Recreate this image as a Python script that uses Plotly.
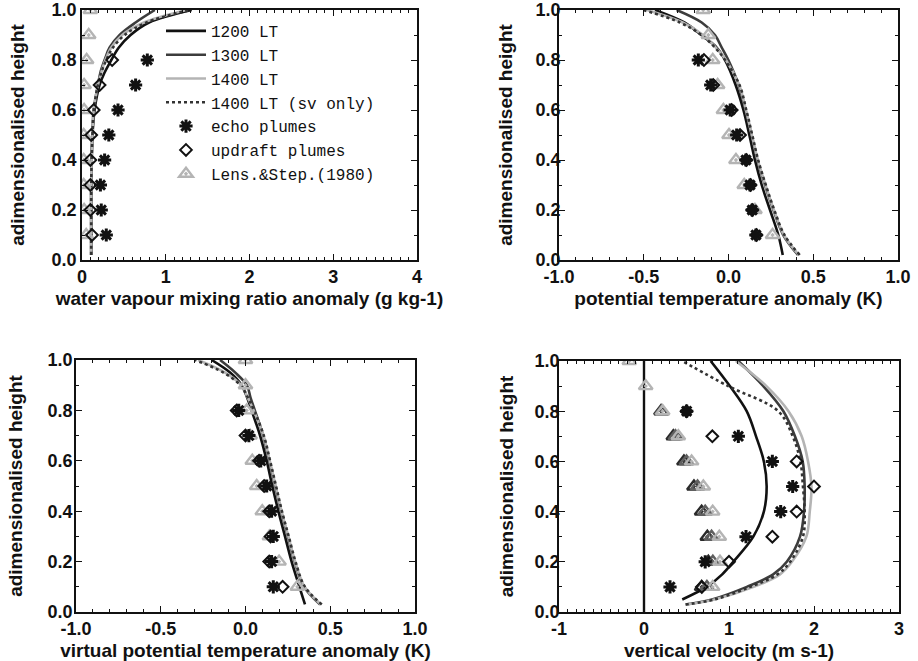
import plotly.graph_objects as go

# ---------------- data ----------------
h_pts8 = [0.1, 0.2, 0.3, 0.4, 0.5, 0.6, 0.7, 0.8]
h_pts10 = [0.1, 0.2, 0.3, 0.4, 0.5, 0.6, 0.7, 0.8, 0.9, 1.0]

# Panel 1: water vapour mixing ratio anomaly (g kg-1)
h_q = [0.02, 0.1, 0.2, 0.3, 0.4, 0.5, 0.6, 0.7, 0.75, 0.8, 0.85, 0.9, 0.95, 1.0]
q_1200 = [0.11, 0.11, 0.11, 0.11, 0.115, 0.125, 0.15, 0.21, 0.27, 0.35, 0.44, 0.58, 0.80, 1.31]
q_1300 = [0.11, 0.11, 0.11, 0.11, 0.115, 0.125, 0.14, 0.19, 0.22, 0.27, 0.33, 0.45, 0.64, 0.87]
q_1400 = [0.11, 0.11, 0.11, 0.11, 0.115, 0.125, 0.14, 0.19, 0.23, 0.28, 0.35, 0.48, 0.74, 1.25]
q_sv = [0.11, 0.11, 0.11, 0.11, 0.115, 0.125, 0.14, 0.19, 0.23, 0.29, 0.37, 0.51, 0.77, 1.29]
echo_q = [0.29, 0.23, 0.22, 0.27, 0.32, 0.43, 0.64, 0.78]
upd_q = [0.12, 0.10, 0.10, 0.10, 0.11, 0.14, 0.21, 0.36]
ls_q = [0.05, 0.025, 0.02, 0.02, 0.02, 0.025, 0.025, 0.055, 0.08, 0.10]

# Panel 2: potential temperature anomaly (K)
h_th = [0.02, 0.1, 0.2, 0.3, 0.4, 0.5, 0.6, 0.7, 0.8, 0.85, 0.9, 0.95, 1.0]
th_1200 = [0.32, 0.294, 0.245, 0.196, 0.156, 0.123, 0.088, 0.042, -0.021, -0.07, -0.16, -0.26, -0.434]
th_1300 = [0.41, 0.323, 0.265, 0.215, 0.17, 0.136, 0.10, 0.06, -0.001, -0.04, -0.08, -0.158, -0.306]
th_1400 = [0.415, 0.327, 0.268, 0.218, 0.173, 0.138, 0.103, 0.063, -0.015, -0.075, -0.15, -0.27, -0.48]
th_sv = [0.42, 0.33, 0.27, 0.22, 0.175, 0.14, 0.105, 0.065, -0.02, -0.08, -0.16, -0.286, -0.503]
echo_th = [0.162, 0.14, 0.127, 0.103, 0.048, 0.01, -0.105, -0.178]
upd_th = [0.165, 0.14, 0.13, 0.105, 0.068, 0.019, -0.09, -0.145]
ls_th = [0.26, 0.156, 0.093, 0.044, 0.003, -0.03, -0.064, -0.093, -0.119, -0.149]

# Panel 3: virtual potential temperature anomaly (K)
h_tv = [0.03, 0.1, 0.2, 0.3, 0.4, 0.5, 0.6, 0.7, 0.8, 0.85, 0.9, 0.95, 1.0]
tv_1200 = [0.351, 0.318, 0.272, 0.233, 0.194, 0.158, 0.125, 0.086, 0.036, 0.01, -0.023, -0.091, -0.2]
tv_1300 = [0.44, 0.345, 0.29, 0.25, 0.21, 0.175, 0.14, 0.104, 0.055, 0.03, 0.008, -0.06, -0.15]
tv_1400 = [0.445, 0.348, 0.293, 0.253, 0.213, 0.178, 0.143, 0.106, 0.048, 0.013, -0.025, -0.12, -0.28]
tv_sv = [0.45, 0.35, 0.295, 0.255, 0.215, 0.18, 0.145, 0.108, 0.05, 0.015, -0.03, -0.13, -0.298]
echo_tv = [0.164, 0.154, 0.164, 0.154, 0.125, 0.09, 0.02, -0.04]
upd_tv = [0.219, 0.14, 0.148, 0.14, 0.11, 0.08, 0.0, -0.052]
ls_tv = [0.306, 0.198, 0.141, 0.099, 0.066, 0.04, 0.027, 0.007, 0.0, 0.0]

# Panel 4: vertical velocity (m s-1)
h_w1200 = [0.05, 0.1, 0.15, 0.2, 0.3, 0.4, 0.5, 0.6, 0.7, 0.8, 0.9, 1.0]
w_1200 = [0.45, 0.737, 0.92, 1.05, 1.286, 1.41, 1.443, 1.41, 1.318, 1.208, 1.01, 0.784]
h_w = [0.03, 0.05, 0.1, 0.15, 0.2, 0.3, 0.4, 0.5, 0.6, 0.7, 0.8, 0.9, 1.0]
w_1300 = [0.49, 0.80, 1.21, 1.52, 1.68, 1.835, 1.882, 1.89, 1.867, 1.776, 1.64, 1.404, 1.11]
w_1400 = [0.50, 0.83, 1.29, 1.60, 1.74, 1.91, 1.95, 1.97, 1.93, 1.855, 1.70, 1.44, 1.08]
w_sv = [0.49, 0.83, 1.25, 1.57, 1.72, 1.87, 1.89, 1.87, 1.84, 1.75, 1.58, 0.99, 0.45]
zero_w = [0.0, 0.0]
zero_h = [0.0, 1.0]
echo_w = [0.306, 0.72, 1.2, 1.608, 1.749, 1.51, 1.11, 0.502]
upd_w = [0.68, 1.0, 1.51, 1.796, 2.0, 1.796, 0.804, 0.5]
ls_w_dark = [0.678, 0.757, 0.745, 0.678, 0.588, 0.47, 0.345, 0.20]
ls_w_mid = [0.74, 0.81, 0.795, 0.72, 0.63, 0.50, 0.37, 0.21]
ls_w = [0.808, 0.894, 0.886, 0.808, 0.698, 0.56, 0.404, 0.22, 0.02, -0.173]

legend_names = ["1200 LT", "1300 LT", "1400 LT", "1400 LT (sv only)",
                "echo plumes", "updraft plumes", "Lens.&Step.(1980)"]

# tick labels
y_tickvals = [0.0, 0.2, 0.4, 0.6, 0.8, 1.0]
y_ticktext = ["0.0", "0.2", "0.4", "0.6", "0.8", "1.0"]
x_tickvals = [[0, 1, 2, 3, 4], [-1.0, -0.5, 0.0, 0.5, 1.0], [-1.0, -0.5, 0.0, 0.5, 1.0], [-1, 0, 1, 2, 3]]
x_ticktext = [["0", "1", "2", "3", "4"], ["-1.0", "-0.5", "0.0", "0.5", "1.0"],
              ["-1.0", "-0.5", "0.0", "0.5", "1.0"], ["-1", "0", "1", "2", "3"]]
x_titles = ["water vapour mixing ratio anomaly (g kg-1)", "potential temperature anomaly (K)",
            "virtual potential temperature anomaly (K)", "vertical velocity (m s-1)"]
y_title = "adimensionalised height"
x_ranges = [[0, 4], [-1, 1], [-1, 1], [-1, 3]]

# ---------------- styles ----------------
C1200, C1300, C1400, CSV = "#111111", "#3c3c3c", "#b4b4b4", "#333333"
LW = 2.6
line_styles = [
    dict(color=C1200, width=LW),
    dict(color=C1300, width=LW),
    dict(color=C1400, width=LW),
    dict(color=CSV, width=LW, dash="dot"),
]
echo_marker = dict(symbol="asterisk-open", size=11, color="#111111",
                   line=dict(color="#111111", width=3))
upd_marker = dict(symbol="diamond-open", size=9, color="#111111",
                  line=dict(color="#111111", width=2))


def tri_marker(col):
    return dict(symbol="triangle-up-open-dot", size=12, color=col,
                line=dict(color=col, width=2.4))


fig = go.Figure()

panels = [
    ("x", "y", h_q, [q_1200, q_1300, q_1400, q_sv], echo_q, upd_q, ls_q),
    ("x2", "y2", h_th, [th_1200, th_1300, th_1400, th_sv], echo_th, upd_th, ls_th),
    ("x3", "y3", h_tv, [tv_1200, tv_1300, tv_1400, tv_sv], echo_tv, upd_tv, ls_tv),
]

for pi, (xa, ya, hh, lines, ec, up, ls) in enumerate(panels):
    first = pi == 0
    for k, xs in enumerate(lines):
        fig.add_trace(go.Scatter(x=xs, y=hh, mode="lines", line=dict(line_styles[k], shape="spline"),
                                 name=legend_names[k], showlegend=first, legendrank=k + 1,
                                 xaxis=xa, yaxis=ya))
    fig.add_trace(go.Scatter(x=ls, y=h_pts10, mode="markers", marker=tri_marker(C1400),
                             name=legend_names[6], showlegend=first, legendrank=7,
                             xaxis=xa, yaxis=ya))
    fig.add_trace(go.Scatter(x=up, y=h_pts8, mode="markers", marker=upd_marker,
                             name=legend_names[5], showlegend=first, legendrank=6,
                             xaxis=xa, yaxis=ya))
    fig.add_trace(go.Scatter(x=ec, y=h_pts8, mode="markers", marker=echo_marker,
                             name=legend_names[4], showlegend=first, legendrank=5,
                             xaxis=xa, yaxis=ya))

# Panel 4
fig.add_trace(go.Scatter(x=zero_w, y=zero_h, mode="lines", line=dict(color="#111111", width=2.4),
                         showlegend=False, xaxis="x4", yaxis="y4"))
fig.add_trace(go.Scatter(x=w_1200, y=h_w1200, mode="lines", line=dict(line_styles[0], shape="spline"),
                         showlegend=False, xaxis="x4", yaxis="y4"))
for k, xs in zip([1, 2, 3], [w_1300, w_1400, w_sv]):
    fig.add_trace(go.Scatter(x=xs, y=h_w, mode="lines", line=dict(line_styles[k], shape="spline"),
                             showlegend=False, xaxis="x4", yaxis="y4"))
fig.add_trace(go.Scatter(x=ls_w_dark, y=h_pts8, mode="markers", marker=tri_marker("#2a2a2a"),
                         showlegend=False, xaxis="x4", yaxis="y4"))
fig.add_trace(go.Scatter(x=ls_w_mid, y=h_pts8, mode="markers", marker=tri_marker("#606060"),
                         showlegend=False, xaxis="x4", yaxis="y4"))
fig.add_trace(go.Scatter(x=ls_w, y=h_pts10, mode="markers", marker=tri_marker(C1400),
                         showlegend=False, xaxis="x4", yaxis="y4"))
fig.add_trace(go.Scatter(x=upd_w, y=h_pts8, mode="markers", marker=upd_marker,
                         showlegend=False, xaxis="x4", yaxis="y4"))
fig.add_trace(go.Scatter(x=echo_w, y=h_pts8, mode="markers", marker=echo_marker,
                         showlegend=False, xaxis="x4", yaxis="y4"))

# ---------------- axes ----------------
W, H = 918, 661
SANS = "Liberation Sans, Arial, sans-serif"
TICKFONT = dict(family=SANS, size=18, color="#111111")
TITLEFONT = dict(family=SANS, size=19, color="#111111")


def xdom(a, b):
    return [a / W, b / W]


def ydom(top, bottom):
    return [1 - bottom / H, 1 - top / H]


def bold(lst):
    return ["<b>%s</b>" % t for t in lst]


common = dict(showline=True, linecolor="#111111", linewidth=1.5, mirror="allticks",
              ticks="inside", ticklen=6, tickwidth=1.2, tickcolor="#111111",
              showgrid=False, zeroline=False, tickfont=TICKFONT, automargin=False,
              minor=dict(ticks="inside", ticklen=3, tickwidth=1, tickcolor="#111111", dtick=0.1,
                         tick0=0, showgrid=False))

xdoms = [xdom(82, 417), xdom(559, 898), xdom(76, 415), xdom(559, 899)]
ydoms = [ydom(10, 260), ydom(10, 260), ydom(360, 612), ydom(361, 612)]
ystand = [0, -7, -2, -6]
ytitle_stand = [22, 18, 20, 16]

layout = dict(width=W, height=H, paper_bgcolor="white", plot_bgcolor="white",
              margin=dict(l=0, r=0, t=0, b=0, autoexpand=False),
              legend=dict(x=161 / W, y=1 - 14 / H, xanchor="left", yanchor="top",
                          bgcolor="rgba(0,0,0,0)", borderwidth=0, itemwidth=40,
                          tracegroupgap=0, traceorder="normal",
                          font=dict(family="Liberation Mono, Courier New, monospace", size=16, color="#111111")),
              showlegend=True)

for i in range(4):
    sx = "" if i == 0 else str(i + 1)
    layout["xaxis" + sx] = dict(common, domain=xdoms[i], range=x_ranges[i],
                                tickmode="array", tickvals=x_tickvals[i], ticktext=bold(x_ticktext[i]),
                                anchor="y" + sx, ticklabelstandoff=0,
                                title=dict(text="<b>%s</b>" % x_titles[i], font=TITLEFONT, standoff=5))
    layout["yaxis" + sx] = dict(common, domain=ydoms[i], range=[0, 1],
                                tickmode="array", tickvals=y_tickvals, ticktext=bold(y_ticktext),
                                anchor="x" + sx, ticklabelstandoff=ystand[i],
                                title=dict(text="<b>%s</b>" % y_title, font=TITLEFONT,
                                           standoff=ytitle_stand[i]))

fig.update_layout(**layout)
fig.write_html("out.html", config={"displayModeBar": False},
               post_script="document.body.style.margin='0px';document.body.style.overflow='hidden';")
